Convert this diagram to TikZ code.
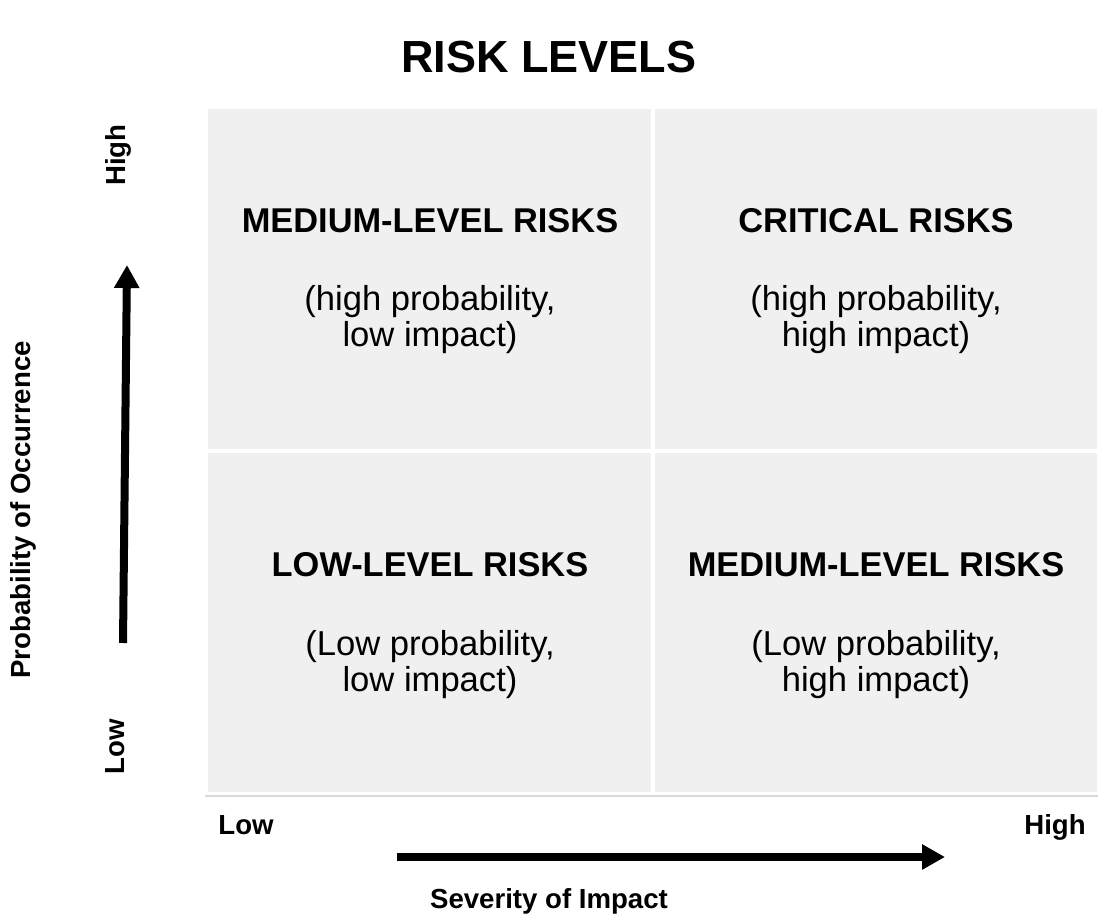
\documentclass[tikz,border=0pt]{standalone}
\usepackage{fontspec}
\setmainfont{Liberation Sans}
\usetikzlibrary{arrows.meta}
\definecolor{cellgray}{RGB}{240,240,240}
\definecolor{rulegray}{RGB}{217,217,217}

\begin{document}
\begin{tikzpicture}[
    x=0.5pt, y=-0.5pt,
    cell/.style={fill=cellgray},
    head/.style={font=\fontsize{17.2}{19}\selectfont\bfseries, inner sep=0pt},
    sub/.style={font=\fontsize{17.3}{18}\selectfont, align=center, inner sep=0pt},
    axis/.style={font=\fontsize{13.8}{16}\selectfont\bfseries, inner sep=0pt},
    bigarrow/.style={-{Triangle[width=12pt,length=11.5pt]}, line width=4pt}
]
\useasboundingbox (0,0) rectangle (1098,924);

% Title
\node[font=\fontsize{22.5}{26}\selectfont\bfseries, inner sep=0pt] (title) at (549,57) {RISK LEVELS};

% Quadrants
\fill[cell] (208,109) rectangle (651,449);
\fill[cell] (655,109) rectangle (1097,449);
\fill[cell] (208,453) rectangle (651,792);
\fill[cell] (655,453) rectangle (1097,792);
\draw[rulegray, line width=1pt] (205,796) -- (1098,796);

% Quadrant texts
\node[head] (tlhead) at (430,221) {MEDIUM-LEVEL RISKS};
\node[sub]  (tlsub)  at (430,320) {(high probability,\\low impact)};
\node[head] (trhead) at (876,221) {CRITICAL RISKS};
\node[sub]  (trsub)  at (876,320) {(high probability,\\high impact)};
\node[head] (blhead) at (430,565) {LOW-LEVEL RISKS};
\node[sub]  (blsub)  at (430,665) {(Low probability,\\low impact)};
\node[head] (brhead) at (876,565) {MEDIUM-LEVEL RISKS};
\node[sub]  (brsub)  at (876,665) {(Low probability,\\high impact)};

% Vertical axis
\node[axis, rotate=90] (yhigh) at (118,155) {High};
\node[axis, rotate=90] (ylow) at (115,747) {Low};
\node[axis, rotate=90] (ylabel) at (23,510) {Probability of Occurrence};
\coordinate (ybot) at (123,643);
\coordinate (ytop) at (127,265);
\draw[bigarrow] (ybot) -- (ytop);

% Horizontal axis
\node[axis, anchor=base] (xlow) at (246,834) {Low};
\node[axis, anchor=base] (xhigh) at (1055,834) {High};
\node[axis] (xlabel) at (549,901) {Severity of Impact};
\coordinate (xleft) at (397,857);
\coordinate (xright) at (945,857);
\draw[bigarrow] (xleft) -- (xright);
\end{tikzpicture}
\end{document}
